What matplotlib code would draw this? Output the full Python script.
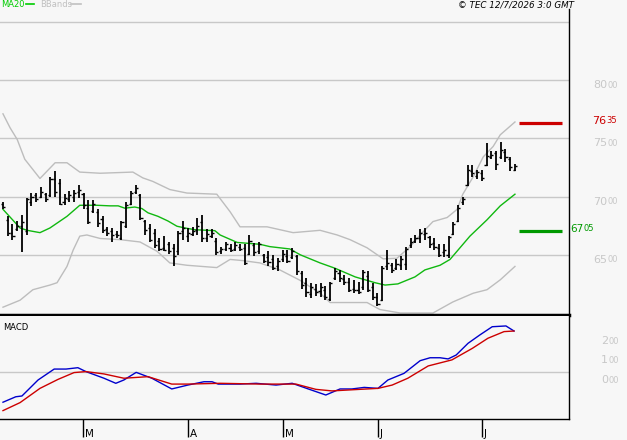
import matplotlib
matplotlib.use("Agg")
import matplotlib.pyplot as plt
import matplotlib.transforms as mtransforms

# ---------------- data ----------------
highs = [69.5, 68.3, 67.6, 67.9, 68.4, 69.9, 70.3, 70.3, 70.8, 70.3,
         71.7, 72.2, 71.5, 70.2, 70.5, 70.6, 71.0, 70.3, 69.7, 69.7,
         68.9, 68.3, 67.4, 67.3, 67.0, 67.9, 69.5, 70.5, 71.0, 70.2,
         68.0, 67.6, 67.2, 66.4, 66.6, 66.1, 65.9, 67.0, 67.9, 67.3,
         67.4, 68.2, 68.4, 67.2, 67.2, 66.4, 65.7, 66.1, 65.9, 66.1,
         65.9, 65.9, 66.7, 66.0, 66.1, 65.1, 65.3, 65.0, 64.7, 65.4,
         65.4, 65.6, 65.0, 63.6, 63.0, 62.6, 62.5, 62.6, 62.3, 62.7,
         63.9, 63.7, 63.3, 63.0, 62.8, 62.7, 63.7, 63.6, 62.6, 61.7,
         64.0, 65.4, 64.3, 64.6, 64.9, 65.7, 66.4, 66.7, 67.2, 67.3,
         66.6, 66.4, 65.9, 65.9, 66.6, 67.8, 69.3, 70.0, 72.7, 72.7,
         72.3, 72.3, 74.6, 73.9, 73.9, 74.7, 74.1, 73.4, 72.8]
lows = [68.9, 66.6, 66.3, 67.0, 65.2, 66.7, 69.2, 69.5, 69.9, 69.5,
        70.0, 70.0, 69.3, 69.3, 69.5, 69.5, 69.9, 68.9, 67.6, 68.6,
        67.4, 66.9, 66.6, 66.1, 66.4, 66.3, 67.3, 69.3, 70.2, 68.0,
        66.7, 66.1, 65.6, 65.3, 65.3, 65.1, 64.0, 65.0, 66.3, 66.1,
        66.6, 66.7, 66.1, 66.1, 66.4, 65.0, 65.1, 65.3, 65.2, 65.3,
        65.3, 64.1, 65.0, 64.9, 65.1, 64.3, 64.0, 63.7, 63.6, 64.4,
        64.3, 64.6, 63.3, 62.1, 61.4, 61.3, 61.5, 61.4, 61.1, 61.0,
        62.8, 62.7, 62.4, 61.8, 61.7, 61.6, 62.0, 61.8, 61.1, 60.6,
        61.0, 63.7, 63.4, 63.7, 63.7, 63.7, 65.6, 66.0, 66.0, 66.3,
        65.6, 65.4, 64.8, 64.8, 64.7, 66.7, 67.8, 69.3, 70.9, 71.7,
        71.5, 71.3, 72.6, 73.2, 72.3, 73.2, 73.0, 72.2, 72.2]
opens = [69.4, 68.0, 66.9, 67.2, 67.5, 67.0, 69.5, 70.1, 70.0, 70.2,
         70.1, 71.5, 71.2, 69.5, 69.8, 70.0, 70.4, 70.2, 69.0, 68.8,
         68.7, 68.1, 67.2, 67.0, 66.8, 66.4, 67.5, 69.4, 70.4, 70.1,
         67.9, 67.3, 66.9, 66.2, 65.6, 65.9, 65.6, 65.3, 67.0, 66.6,
         66.8, 67.1, 67.8, 66.4, 66.6, 66.2, 65.3, 65.5, 65.6, 65.5,
         65.7, 65.6, 65.1, 65.8, 65.3, 65.0, 64.8, 64.6, 64.0, 64.6,
         64.9, 64.8, 64.9, 63.4, 62.6, 61.6, 62.1, 61.9, 62.0, 61.2,
         63.0, 63.4, 62.9, 62.7, 62.1, 62.0, 62.2, 63.2, 62.2, 61.4,
         61.1, 64.0, 64.1, 63.9, 64.1, 64.2, 65.8, 66.2, 66.4, 66.8,
         66.5, 66.0, 65.6, 65.2, 65.0, 66.8, 67.9, 69.5, 71.0, 72.2,
         71.8, 72.0, 72.7, 73.4, 73.7, 73.4, 73.8, 73.2, 72.3]
closes = [69.1, 66.9, 66.6, 67.5, 67.8, 69.8, 70.0, 69.8, 70.4, 69.8,
          71.5, 70.4, 69.4, 69.9, 70.1, 70.3, 70.6, 69.3, 67.8, 69.4,
          67.7, 67.1, 66.9, 66.7, 66.7, 67.8, 69.3, 70.3, 70.7, 68.2,
          67.1, 66.3, 65.8, 65.5, 65.4, 65.3, 64.9, 66.9, 67.3, 66.9,
          67.0, 67.5, 66.4, 66.8, 66.9, 65.2, 65.5, 65.9, 65.4, 65.8,
          65.5, 64.3, 66.2, 65.2, 65.9, 64.5, 64.4, 63.9, 64.5, 65.1,
          64.5, 65.3, 63.6, 62.4, 61.8, 62.2, 61.8, 62.2, 61.4, 62.6,
          63.6, 63.0, 62.7, 62.0, 62.0, 61.8, 63.5, 62.0, 61.4, 60.8,
          63.9, 64.3, 63.7, 64.2, 64.6, 65.5, 66.1, 66.4, 66.9, 66.9,
          65.9, 65.7, 65.0, 65.4, 66.5, 67.6, 69.0, 69.8, 72.3, 72.0,
          72.1, 71.6, 73.5, 73.6, 72.8, 74.0, 73.4, 72.5, 72.6]

# moving average 20 (bar index -> value)
ma_x = [0, 3.6, 5.1, 7.8, 9.9, 13.5, 16.2, 19.8, 22.6, 24.3, 25.7, 27.8, 29.3,
        30.6, 32.7, 34.8, 36.7, 38.4, 40.5, 44.7, 45.8, 49.4, 54.2, 56.3, 60.5,
        62.7, 66.9, 70, 74.3, 78.5, 80.6, 83.3, 86.9, 89, 92.2, 94.3, 96.4,
        98.5, 102.1, 104.9, 108]
ma_v = [68.9, 67.3, 67.1, 66.9, 67.3, 68.3, 69.25, 69.25, 69.2, 69.2, 69.0,
        69.1, 68.97, 68.6, 68.3, 67.9, 67.45, 67.3, 67.15, 67.07, 66.7, 66.06,
        65.9, 65.7, 65.5, 65.0, 64.3, 63.85, 63.1, 62.6, 62.4, 62.5, 63.1,
        63.7, 64.1, 64.6, 65.6, 66.6, 68.0, 69.2, 70.2]

# Bollinger bands
bbu_x = [0, 1.5, 3, 4.6, 7.8, 11, 13.5, 16.2, 20.5, 27.4, 29.5, 31.6, 35.2,
         38.8, 45.1, 47.9, 50, 55.7, 61.2, 66.9, 70.5, 73.2, 76.8, 80.2, 83.1,
         85.9, 88, 90.7, 93.7, 95.8, 97, 99.2, 101.3, 103.4, 104.9, 108]
bbu_v = [77.1, 75.9, 74.9, 73.2, 71.55, 72.9, 72.9, 72.1, 72.0, 72.1, 71.6,
         71.3, 70.6, 70.3, 70.2, 68.7, 67.4, 67.4, 66.9, 67.1, 66.7, 66.3,
         65.6, 64.65, 64.7, 65.7, 66.7, 67.85, 68.2, 68.9, 70.2, 71.7, 73.4,
         74.3, 75.3, 76.4]
bbl_x = [0, 3.6, 6.3, 9.9, 11.4, 13.5, 14.8, 16.2, 17.7, 20.5, 24.7, 28.9,
         32.5, 35.2, 38.8, 45.1, 47.9, 50.6, 54.2, 58.4, 62.7, 66.9, 69,
         76.8, 79.5, 83.8, 90.7, 94.9, 99.2, 102.1, 104.9, 108]
bbl_v = [60.5, 61.1, 62.0, 62.4, 62.6, 64.0, 65.4, 66.6, 66.7, 66.4, 66.3,
         66.1, 65.3, 64.3, 64.1, 63.9, 64.6, 64.5, 64.3, 63.7, 62.8, 61.7,
         60.9, 60.9, 60.3, 60.0, 60.0, 60.95, 61.7, 62.0, 62.85, 64.0]

# MACD and signal
macd_x = [0, 2.7, 4, 7.4, 10.8, 13.3, 15.8, 17.5, 21.3, 23.8, 25.5, 28.1,
          31.4, 35.6, 39, 42.4, 44.1, 45.4, 50, 53.4, 57.6, 61, 64.4, 68.1,
          71.1, 73.6, 76.2, 79.1, 81.2, 84.6, 88, 90.1, 92.2, 93.9, 95.6, 98.1,
          100.6, 103.2, 106.1, 107.8]
macd_v = [-1.55, -1.27, -1.23, -0.41, 0.15, 0.15, 0.22, 0.02, -0.32, -0.58,
          -0.41, -0.02, -0.32, -0.87, -0.67, -0.5, -0.5, -0.62, -0.62, -0.58,
          -0.67, -0.58, -0.87, -1.18, -0.87, -0.87, -0.79, -0.84, -0.41, -0.07,
          0.58, 0.73, 0.73, 0.67, 0.87, 1.47, 1.9, 2.32, 2.36, 2.1]
sig_x = [0, 3.6, 7.8, 11.6, 15, 17.5, 21.3, 25.5, 30.6, 35.6, 39, 45.8, 54.2,
         61.8, 66, 69.4, 75.3, 79.1, 82.1, 85.4, 89.7, 94.7, 99, 102.3, 105.7,
         107.8]
sig_v = [-1.98, -1.57, -0.84, -0.38, -0.03, 0.02, -0.1, -0.32, -0.24, -0.62,
         -0.62, -0.58, -0.62, -0.62, -0.89, -0.97, -0.89, -0.84, -0.67, -0.32,
         0.31, 0.62, 1.21, 1.73, 2.07, 2.1]

resistance = 76.35
support = 67.05
level_span = [108.9, 117.9]

price_ticks = [65, 70, 75, 80, 85]
macd_ticks = [0, 1, 2]
month_pos = [16.9, 39.0, 59.1, 79.1, 101.1]
month_lab = ["M", "A", "M", "J", "J"]

# ---------------- figure ----------------
BG = "#f7f7f7"
GRID = "#c8c8c8"
LBL = "#c8c8c8"
W, H = 627, 440
fig = plt.figure(figsize=(W / 100, H / 100), dpi=100, facecolor=BG)

def fx(px):
    return px / W

def fy(py):
    return 1 - py / H

ax = fig.add_axes([0, fy(315), fx(569), fy(9) - fy(315)], facecolor=BG)
axm = fig.add_axes([0, fy(419), fx(569), fy(316) - fy(419)], facecolor=BG)

n = len(closes)
idx = list(range(n))
xlim = (-0.63, 119.4)

# price panel
for t in price_ticks:
    ax.axhline(t, color=GRID, lw=1.0, zorder=1)
ax.plot(bbu_x, bbu_v, color="#bdbdbd", lw=1.0, zorder=2)
ax.plot(bbl_x, bbl_v, color="#bdbdbd", lw=1.0, zorder=2)
ax.plot(ma_x, ma_v, color="#10b810", lw=1.0, zorder=3)
ax.vlines(idx, lows, highs, color="black", lw=1.3, zorder=4)
ax.hlines(opens, [i - 0.45 for i in idx], idx, color="black", lw=1.0, zorder=4)
ax.hlines(closes, idx, [i + 0.45 for i in idx], color="black", lw=1.0, zorder=4)
ax.hlines([resistance], level_span[0], level_span[1], color="#cc0000", lw=2.3, zorder=5)
ax.hlines([support], level_span[0], level_span[1], color="#009900", lw=2.3, zorder=5)
ax.set_xlim(*xlim)
ax.set_ylim(59.83, 86.1)
ax.set_xticks([])
ax.set_yticks([])
for s in ["left", "top"]:
    ax.spines[s].set_visible(False)
ax.spines["right"].set_color("black")
ax.spines["right"].set_linewidth(1.0)
ax.spines["bottom"].set_color("black")
ax.spines["bottom"].set_linewidth(2.5)

tr = mtransforms.blended_transform_factory(fig.transFigure, ax.transData)
for t in price_ticks[:-1]:
    ax.text(fx(607.5), t, "%d" % t, transform=tr, ha="right", va="top",
            fontsize=8, color=LBL)
    ax.text(fx(608), t - 0.05, "00", transform=tr, ha="left", va="top",
            fontsize=6, color=LBL)
# level labels
ax.text(fx(606), resistance + 0.6, "%d" % int(resistance), transform=tr,
        ha="right", va="top", fontsize=8, color="#cc0000")
ax.text(fx(606.5), resistance + 0.55, "%02d" % round((resistance % 1) * 100),
        transform=tr, ha="left", va="top", fontsize=6, color="#cc0000")
ax.text(fx(570.5), support + 0.6, "%d" % int(support), transform=tr,
        ha="left", va="top", fontsize=7.5, color="#009900", zorder=10)
ax.text(fx(584), support + 0.55, "%02d" % round((support % 1) * 100),
        transform=tr, ha="left", va="top", fontsize=6, color="#009900")

# MACD panel
axm.axhline(0, color=GRID, lw=1.0, zorder=1)
axm.plot(sig_x, sig_v, color="#cc0000", lw=1.0, zorder=3)
axm.plot(macd_x, macd_v, color="#0000cc", lw=1.0, zorder=2)
axm.set_xlim(*xlim)
axm.set_ylim(-2.41, 2.87)
axm.set_yticks([])
axm.spines["left"].set_visible(False)
axm.spines["top"].set_visible(False)
for s in ["right", "bottom"]:
    axm.spines[s].set_color("black")
    axm.spines[s].set_linewidth(1.0)
axm.set_xticks(month_pos)
axm.set_xticklabels([])
axm.tick_params(axis="x", direction="out", length=13, width=1.0, color="black")

trm = mtransforms.blended_transform_factory(fig.transFigure, axm.transData)
for t in macd_ticks:
    axm.text(fx(608), t - 0.15, "%d" % t, transform=trm, ha="right", va="top",
             fontsize=8, color=LBL)
    axm.text(fx(608.5), t - 0.2, "00", transform=trm, ha="left", va="top",
             fontsize=6, color=LBL)
axm.text(fx(3), fy(327), "MACD", transform=fig.transFigure, ha="left",
         va="center", fontsize=6, color="black")

trx = mtransforms.blended_transform_factory(axm.transData, fig.transFigure)
for p, lab in zip(month_pos, month_lab):
    axm.text(p + 0.35, fy(439), lab, transform=trx, ha="left", va="bottom",
             fontsize=7.5, color="black")

# header
fig.text(fx(1), fy(4.5), "MA20", ha="left", va="center", fontsize=6, color="#00cc00")
fig.lines.append(plt.Line2D([fx(26), fx(34)], [fy(4.5), fy(4.5)],
                            transform=fig.transFigure, color="#00cc00", lw=1.2))
fig.text(fx(40), fy(4.5), "BBands", ha="left", va="center", fontsize=6, color="#c0c0c0")
fig.lines.append(plt.Line2D([fx(71), fx(81)], [fy(4.5), fy(4.5)],
                            transform=fig.transFigure, color="#c0c0c0", lw=1.2))
fig.text(fx(574), fy(4.5), "\u00a9 TEC 12/7/2026 3:0 GMT", ha="right", va="center",
         fontsize=6.3, style="italic", color="black")

fig.savefig("out.png", dpi=100, facecolor=BG)
